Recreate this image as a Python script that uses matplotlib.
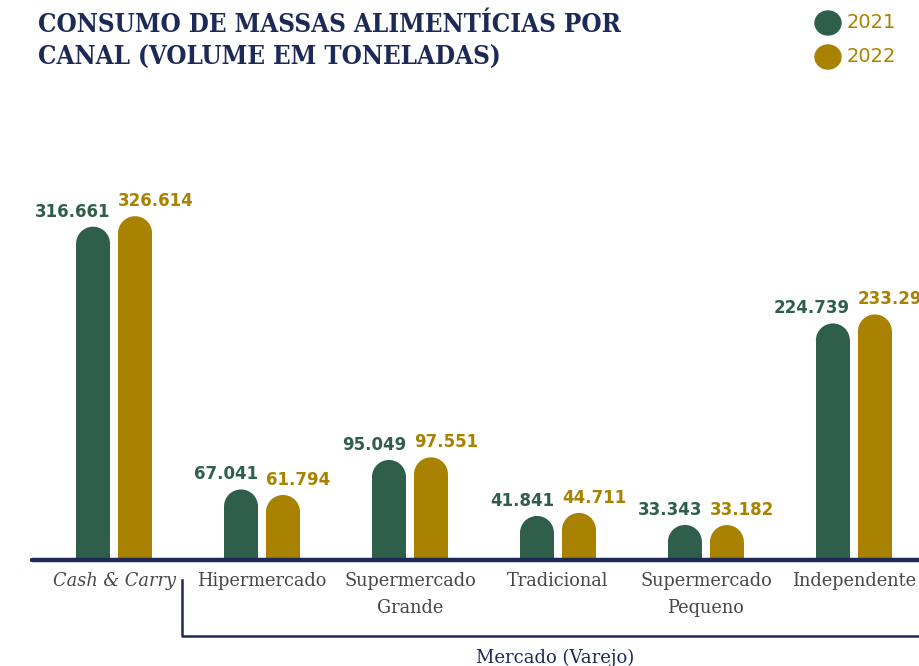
import matplotlib
matplotlib.use("Agg")
import matplotlib.pyplot as plt
from matplotlib.patches import Ellipse
import numpy as np

canais = ["Cash & Carry", "Hipermercado", "Supermercado\nGrande", "Tradicional",
          "Supermercado\nPequeno", "Independente"]
v2021 = [316.661, 67.041, 95.049, 41.841, 33.343, 224.739]
v2022 = [326.614, 61.794, 97.551, 44.711, 33.182, 233.29]
rot2021 = ["316.661", "67.041", "95.049", "41.841", "33.343", "224.739"]
rot2022 = ["326.614", "61.794", "97.551", "44.711", "33.182", "233.29"]

verde = "#2f5f4b"
ouro = "#a88200"
azul = "#1d2a58"
cinza = "#474747"

W, H = 919, 666
fig = plt.figure(figsize=(W / 100, H / 100), dpi=100)
ax_left, ax_right = 30, 919
ax_base, ax_top = 560, 100
ax = fig.add_axes([ax_left / W, (H - ax_base) / H, (ax_right - ax_left) / W, (ax_base - ax_top) / H])

xmin, xmax = -0.568, 5.44
ymax = 437
ax.set_xlim(xmin, xmax)
ax.set_ylim(0, ymax)
ax.axis("off")

px_x = (ax_right - ax_left) / (xmax - xmin)   # pixels per x unit
px_y = (ax_base - ax_top) / ymax               # pixels per y unit

x = np.arange(len(canais))
w = 34 / px_x
off = 21 / px_x
r = (34 / 2) / px_y

for xs, vals, cor in [(x - off, v2021, verde), (x + off, v2022, ouro)]:
    body = [v - r for v in vals]
    ax.bar(xs, body, width=w, color=cor, linewidth=0, zorder=2)
    for xi, b in zip(xs, body):
        ax.add_patch(Ellipse((xi, b), w, 2 * r, color=cor, linewidth=0, zorder=2))

gap = 6 / px_y
for i in range(len(canais)):
    ax.text(x[i] - off + w / 2, v2021[i] + gap, rot2021[i], ha="right", va="bottom",
            fontsize=12, fontweight="bold", color=verde, family="DejaVu Sans")
    ax.text(x[i] + off - w / 2, v2022[i] + gap, rot2022[i], ha="left", va="bottom",
            fontsize=12, fontweight="bold", color=ouro, family="DejaVu Sans")

# baseline
ax.plot([xmin + 2 / px_x, xmax + 1], [0, 0], color=azul, lw=3.2, solid_capstyle="round",
        clip_on=False, zorder=3)

# category labels
for i, c in enumerate(canais):
    ax.text(x[i], -12 / px_y, c, ha="center", va="top", fontsize=12.8, color=cinza,
            family="DejaVu Serif", style="italic" if i == 0 else "normal",
            linespacing=1.65)

# bracket for Mercado (Varejo)
bx = (182 - ax_left) / px_x + xmin
ax.plot([bx, bx, xmax + 1], [-20 / px_y, -76 / px_y, -76 / px_y], color=azul, lw=1.8,
        clip_on=False, zorder=3)
fig.text(555 / W, 1 - 658 / H, "Mercado (Varejo)", ha="center", va="center",
         fontsize=13, color=azul, family="DejaVu Serif")

# title
fig.text(38 / W, 1 - 41 / H, "CONSUMO DE MASSAS ALIMENTÍCIAS POR\nCANAL (VOLUME EM TONELADAS)",
         ha="left", va="center", fontsize=18.5, fontweight="bold", color=azul,
         family="DejaVu Serif", fontstretch="condensed", linespacing=1.4)

# legend
for yy, ano, cor in [(23, "2021", verde), (57, "2022", ouro)]:
    fig.patches.append(Ellipse((828 / W, 1 - yy / H), 26 / W, 24 / H, color=cor,
                               transform=fig.transFigure, figure=fig))
    fig.text(847 / W, 1 - yy / H, ano, ha="left", va="center", fontsize=14,
             color=ouro, family="DejaVu Sans")

fig.savefig("out.png", dpi=100)
